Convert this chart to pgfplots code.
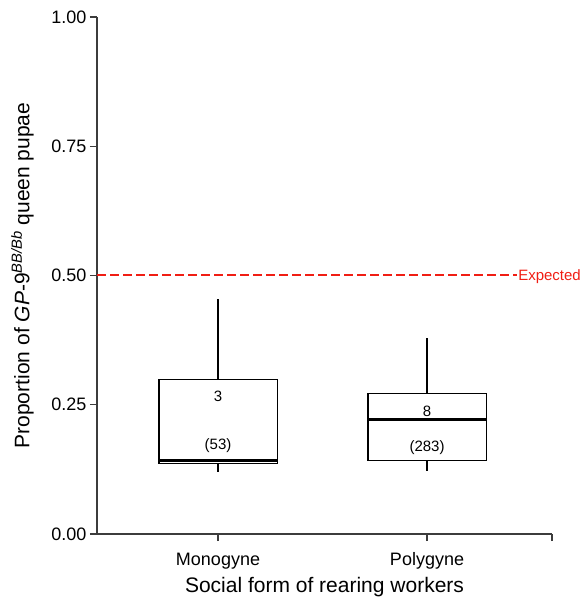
\documentclass[border=0pt]{standalone}
\usepackage{fontspec}
\setmainfont{Liberation Sans}
\usepackage{pgfplots}
\pgfplotsset{compat=1.18}
\usepgfplotslibrary{statistics}
\definecolor{expred}{RGB}{240,30,20}
\definecolor{axgray}{RGB}{60,60,60}
\begin{document}
\begin{tikzpicture}
\begin{axis}[
  scale only axis, width=455pt, height=517pt,
  xmin=0.421, xmax=2.598, ymin=0, ymax=1,
  axis x line=bottom, axis y line=left,
  axis line style={axgray, line width=1.3pt, -},
  xtick={1,2}, xticklabels={Monogyne,Polygyne},
  extra x ticks={2.598}, extra x tick labels={},
  ytick={0,0.25,0.5,0.75,1},
  yticklabel style={/pgf/number format/fixed, /pgf/number format/fixed zerofill, /pgf/number format/precision=2, /pgf/number format/assume math mode=true},
  tick style={axgray, line width=1.3pt},
  tick align=outside, xtick align=outside, ytick align=outside, major tick length=7pt,
  ticklabel style={font=\fontsize{18}{20}\selectfont},
  xticklabel style={anchor=base, yshift=-24pt},
  xlabel={Social form of rearing workers},
  ylabel={Proportion of \textit{GP}-9\textsuperscript{\textit{BB/Bb}} queen pupae},
  label style={font=\fontsize{21}{24}\selectfont},
  xlabel style={at={(axis description cs:0.5,0)}, anchor=base, yshift=-58pt},
  ylabel style={at={(axis description cs:-0.164,0.5)}, anchor=center},
  clip=false,
]
\addplot[color=expred, solid, line width=2pt, dash pattern={on 9pt off 4pt}, mark=none, forget plot] table[x=x, y=y] {
x y
0.421 0.5
2.431 0.5
};
\addplot[black, line width=1.1pt, fill=white, boxplot/draw direction=y, boxplot prepared={draw position=1, lower whisker=0.120, lower quartile=0.136, median=0.143, upper quartile=0.298, upper whisker=0.455, box extend=0.565, whisker extend=0, every median/.style={line width=3pt}}] coordinates {};
\addplot[black, line width=1.1pt, fill=white, boxplot/draw direction=y, boxplot prepared={draw position=2, lower whisker=0.122, lower quartile=0.143, median=0.221, upper quartile=0.271, upper whisker=0.380, box extend=0.565, whisker extend=0, every median/.style={line width=3pt}}] coordinates {};
\node[expred, anchor=base west, inner sep=1pt, yshift=-5.4pt, font=\fontsize{15}{17}\selectfont] at (axis cs:2.431,0.5) {Expected};
\node[anchor=base, inner sep=0pt, font=\fontsize{15}{17}\selectfont] at (axis cs:1,0.256) {3};
\node[anchor=base, inner sep=0pt, font=\fontsize{15}{17}\selectfont] at (axis cs:1,0.163) {(53)};
\node[anchor=base, inner sep=0pt, font=\fontsize{15}{17}\selectfont] at (axis cs:2,0.227) {8};
\node[anchor=base, inner sep=0pt, font=\fontsize{15}{17}\selectfont] at (axis cs:2,0.159) {(283)};
\end{axis}
\pgfresetboundingbox
\path[use as bounding box] (-97pt,-67pt) rectangle (485pt,534pt);
\end{tikzpicture}
\end{document}
